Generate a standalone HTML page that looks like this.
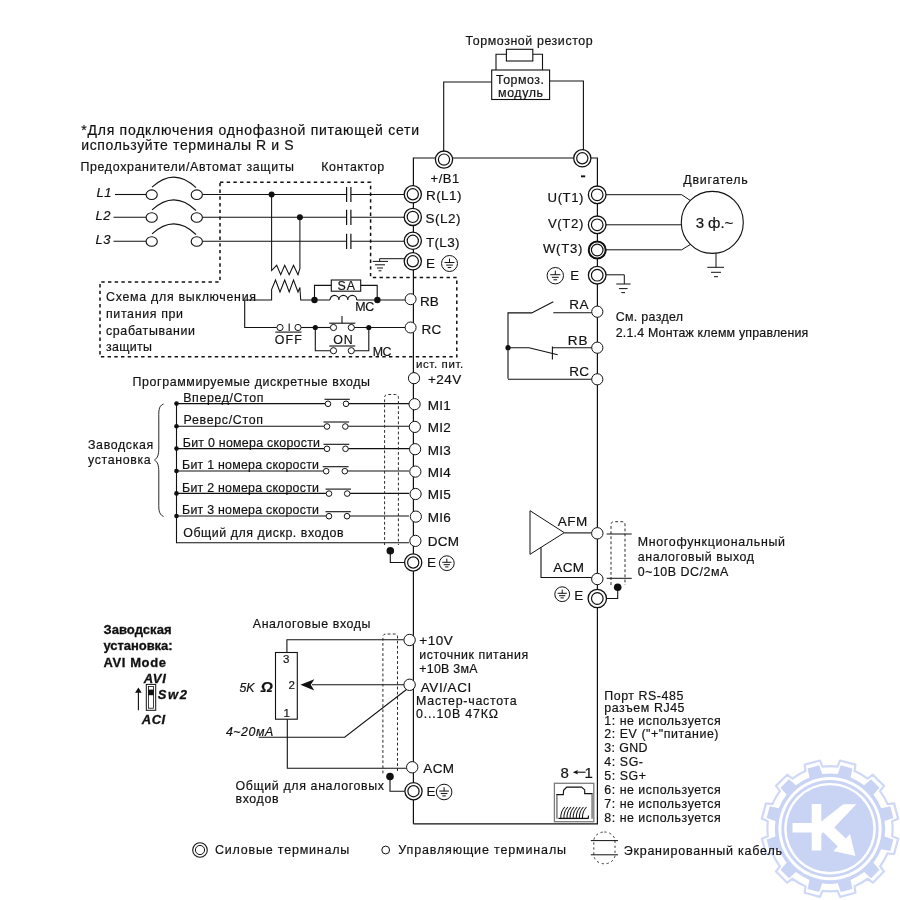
<!DOCTYPE html>
<html><head><meta charset="utf-8"><title>Wiring diagram</title>
<style>
html,body{margin:0;padding:0;background:#fff;}
body{width:900px;height:900px;overflow:hidden;}
svg{display:block;will-change:transform;font-family:"Liberation Sans",sans-serif;}
text{white-space:pre;}
</style></head><body>
<svg width="900" height="900" viewBox="0 0 900 900">
<rect width="900" height="900" fill="#fff"/>
<path d="M892.14,836.24 L898.16,838.78 L894.07,854.05 L887.59,853.24 A62.6,62.6 0 0 1 880.05,866.30 L883.98,871.51 L872.81,882.68 L867.60,878.75 A62.6,62.6 0 0 1 854.54,886.29 L855.35,892.77 L840.08,896.86 L837.54,890.84 A62.6,62.6 0 0 1 822.46,890.84 L819.92,896.86 L804.65,892.77 L805.46,886.29 A62.6,62.6 0 0 1 792.40,878.75 L787.19,882.68 L776.02,871.51 L779.95,866.30 A62.6,62.6 0 0 1 772.41,853.24 L765.93,854.05 L761.84,838.78 L767.86,836.24 A62.6,62.6 0 0 1 767.86,821.16 L761.84,818.62 L765.93,803.35 L772.41,804.16 A62.6,62.6 0 0 1 779.95,791.10 L776.02,785.89 L787.19,774.72 L792.40,778.65 A62.6,62.6 0 0 1 805.46,771.11 L804.65,764.63 L819.92,760.54 L822.46,766.56 A62.6,62.6 0 0 1 837.54,766.56 L840.08,760.54 L855.35,764.63 L854.54,771.11 A62.6,62.6 0 0 1 867.60,778.65 L872.81,774.72 L883.98,785.89 L880.05,791.10 A62.6,62.6 0 0 1 887.59,804.16 L894.07,803.35 L898.16,818.62 L892.14,821.16 A62.6,62.6 0 0 1 892.14,836.24 Z" fill="#fff" stroke="#d0d8f8" stroke-width="2.2" stroke-linejoin="round"/>
<path d="M884.64,836.51 L893.39,839.47 L890.29,851.07 L881.23,849.26 A55.2,55.2 0 0 1 873.42,862.79 L879.51,869.73 L871.03,878.21 L864.09,872.12 A55.2,55.2 0 0 1 850.56,879.93 L852.37,888.99 L840.77,892.09 L837.81,883.34 A55.2,55.2 0 0 1 822.19,883.34 L819.23,892.09 L807.63,888.99 L809.44,879.93 A55.2,55.2 0 0 1 795.91,872.12 L788.97,878.21 L780.49,869.73 L786.58,862.79 A55.2,55.2 0 0 1 778.77,849.26 L769.71,851.07 L766.61,839.47 L775.36,836.51 A55.2,55.2 0 0 1 775.36,820.89 L766.61,817.93 L769.71,806.33 L778.77,808.14 A55.2,55.2 0 0 1 786.58,794.61 L780.49,787.67 L788.97,779.19 L795.91,785.28 A55.2,55.2 0 0 1 809.44,777.47 L807.63,768.41 L819.23,765.31 L822.19,774.06 A55.2,55.2 0 0 1 837.81,774.06 L840.77,765.31 L852.37,768.41 L850.56,777.47 A55.2,55.2 0 0 1 864.09,785.28 L871.03,779.19 L879.51,787.67 L873.42,794.61 A55.2,55.2 0 0 1 881.23,808.14 L890.29,806.33 L893.39,817.93 L884.64,820.89 A55.2,55.2 0 0 1 884.64,836.51 Z" fill="#c9d4f4"/>
<circle cx="830" cy="828.7" r="51.6" fill="#fff"/>
<circle cx="830" cy="828.7" r="48.6" fill="#c9d4f4"/>
<circle cx="830" cy="828.7" r="45.8" fill="#fff"/>
<circle cx="830" cy="828.7" r="43.4" fill="#c9d4f4"/>
<path d="M811.7,803.9 L821.3,803.9 L821.3,821.4 L843.3,804.3 L856.3,804.3 L834.2,827.6 L845.8,838.6 L850.0,833.9 L855.3,855.9 L833.3,851.1 L837.8,846.4 L823.3,832.3 L821.3,833.9 L821.3,850.6 L811.7,850.6 L811.7,832.6 L792.5,832.6 L792.5,823.1 L811.7,823.1 Z" fill="#fff"/>
<g style="filter:grayscale(1)">
<polyline points="413.4,823.8 413.4,158 597.4,158 597.4,823.8 413.4,823.8" fill="none" stroke="#111" stroke-width="1.2" />
<polyline points="443.7,152 443.7,82 491.7,82" fill="none" stroke="#111" stroke-width="1.1" />
<polyline points="549.6,81 583.4,81 583.4,150" fill="none" stroke="#111" stroke-width="1.1" />
<rect x="491.7" y="70" width="57.9" height="29.5" fill="#fff" stroke="#111" stroke-width="1.1"/>
<polyline points="496,70 496,54.3 506.4,54.3" fill="none" stroke="#111" stroke-width="1.1" />
<polyline points="532.8,54.3 542.5,54.3 542.5,70" fill="none" stroke="#111" stroke-width="1.1" />
<rect x="506.4" y="49.3" width="26.4" height="11.7" fill="#fff" stroke="#111" stroke-width="1.1"/>
<text x="465.5" y="44.6" font-size="12.4" textLength="127.2" lengthAdjust="spacing" text-anchor="start" fill="#111" stroke="#111" stroke-width="0.18" style="">Тормозной резистор</text>
<text x="496" y="84.2" font-size="12.4" textLength="48.0" lengthAdjust="spacing" text-anchor="start" fill="#111" stroke="#111" stroke-width="0.18" style="">Тормоз.</text>
<text x="498" y="97" font-size="12.4" textLength="45.0" lengthAdjust="spacing" text-anchor="start" fill="#111" stroke="#111" stroke-width="0.18" style="">модуль</text>
<circle cx="444" cy="159.6" r="8.6" fill="#fff" stroke="#111" stroke-width="1.3"/>
<circle cx="444" cy="159.6" r="5.6" fill="#fff" stroke="#111" stroke-width="1.2"/>
<circle cx="582.3" cy="158.3" r="8.6" fill="#fff" stroke="#111" stroke-width="1.3"/>
<circle cx="582.3" cy="158.3" r="5.6" fill="#fff" stroke="#111" stroke-width="1.2"/>
<text x="430.5" y="182.7" font-size="13" textLength="28.8" lengthAdjust="spacing" text-anchor="start" fill="#111" stroke="#111" stroke-width="0.18" style="">+/B1</text>
<rect x="581" y="175.4" width="4.2" height="1.9" fill="#111"/>
<text x="81.3" y="134.5" font-size="14" textLength="337.7" lengthAdjust="spacing" text-anchor="start" fill="#111" stroke="#111" stroke-width="0.18" style="">*Для подключения однофазной питающей сети</text>
<text x="81.3" y="150" font-size="14" textLength="212.3" lengthAdjust="spacing" text-anchor="start" fill="#111" stroke="#111" stroke-width="0.18" style="">используйте терминалы R и S</text>
<text x="80.5" y="171.2" font-size="12.4" textLength="213.5" lengthAdjust="spacing" text-anchor="start" fill="#111" stroke="#111" stroke-width="0.18" style="">Предохранители/Автомат защиты</text>
<text x="321.2" y="171.2" font-size="12.4" textLength="62.9" lengthAdjust="spacing" text-anchor="start" fill="#111" stroke="#111" stroke-width="0.18" style="">Контактор</text>
<text x="96.5" y="196.7" font-size="13" text-anchor="start" fill="#111" stroke="#111" stroke-width="0.18" style="font-style:italic;letter-spacing:0.6px">L1</text>
<line x1="115" y1="194.5" x2="146.3" y2="194.5" stroke="#111" stroke-width="1.1" />
<line x1="202.5" y1="194.5" x2="346.4" y2="194.5" stroke="#111" stroke-width="1.1" />
<line x1="351" y1="194.5" x2="404.5" y2="194.5" stroke="#111" stroke-width="1.1" />
<line x1="346.6" y1="186.9" x2="346.6" y2="202.1" stroke="#111" stroke-width="1.2" />
<line x1="350.9" y1="186.9" x2="350.9" y2="202.1" stroke="#111" stroke-width="1.2" />
<ellipse cx="151.7" cy="194.7" rx="5.6" ry="4.8" fill="#fff" stroke="#111" stroke-width="1.1"/>
<ellipse cx="196.8" cy="194.7" rx="5.6" ry="4.8" fill="#fff" stroke="#111" stroke-width="1.1"/>
<path d="M152,187.1 Q174.2,166.7 196,187.7" fill="none" stroke="#111" stroke-width="1.1"/>
<text x="95.5" y="219.5" font-size="13" text-anchor="start" fill="#111" stroke="#111" stroke-width="0.18" style="font-style:italic;letter-spacing:0.6px">L2</text>
<line x1="113.5" y1="217.3" x2="146.3" y2="217.3" stroke="#111" stroke-width="1.1" />
<line x1="202.5" y1="217.3" x2="346.4" y2="217.3" stroke="#111" stroke-width="1.1" />
<line x1="351" y1="217.3" x2="404.5" y2="217.3" stroke="#111" stroke-width="1.1" />
<line x1="346.6" y1="209.70000000000002" x2="346.6" y2="224.9" stroke="#111" stroke-width="1.2" />
<line x1="350.9" y1="209.70000000000002" x2="350.9" y2="224.9" stroke="#111" stroke-width="1.2" />
<ellipse cx="151.7" cy="217.5" rx="5.6" ry="4.8" fill="#fff" stroke="#111" stroke-width="1.1"/>
<ellipse cx="196.8" cy="217.5" rx="5.6" ry="4.8" fill="#fff" stroke="#111" stroke-width="1.1"/>
<path d="M152,209.9 Q174.2,189.5 196,210.5" fill="none" stroke="#111" stroke-width="1.1"/>
<text x="95.5" y="243.5" font-size="13" text-anchor="start" fill="#111" stroke="#111" stroke-width="0.18" style="font-style:italic;letter-spacing:0.6px">L3</text>
<line x1="113.5" y1="241.3" x2="146.3" y2="241.3" stroke="#111" stroke-width="1.1" />
<line x1="202.5" y1="241.3" x2="346.4" y2="241.3" stroke="#111" stroke-width="1.1" />
<line x1="351" y1="241.3" x2="404.5" y2="241.3" stroke="#111" stroke-width="1.1" />
<line x1="346.6" y1="233.70000000000002" x2="346.6" y2="248.9" stroke="#111" stroke-width="1.2" />
<line x1="350.9" y1="233.70000000000002" x2="350.9" y2="248.9" stroke="#111" stroke-width="1.2" />
<ellipse cx="151.7" cy="241.5" rx="5.6" ry="4.8" fill="#fff" stroke="#111" stroke-width="1.1"/>
<ellipse cx="196.8" cy="241.5" rx="5.6" ry="4.8" fill="#fff" stroke="#111" stroke-width="1.1"/>
<path d="M152,233.9 Q174.2,213.5 196,234.5" fill="none" stroke="#111" stroke-width="1.1"/>
<circle cx="271.6" cy="194.5" r="3" fill="#111"/>
<circle cx="299.9" cy="217.3" r="3" fill="#111"/>
<circle cx="412.8" cy="194.3" r="8.6" fill="#fff" stroke="#111" stroke-width="1.3"/>
<circle cx="412.8" cy="194.3" r="5.6" fill="#fff" stroke="#111" stroke-width="1.2"/>
<circle cx="412.8" cy="216.9" r="8.6" fill="#fff" stroke="#111" stroke-width="1.3"/>
<circle cx="412.8" cy="216.9" r="5.6" fill="#fff" stroke="#111" stroke-width="1.2"/>
<circle cx="412.8" cy="240.8" r="8.6" fill="#fff" stroke="#111" stroke-width="1.3"/>
<circle cx="412.8" cy="240.8" r="5.6" fill="#fff" stroke="#111" stroke-width="1.2"/>
<circle cx="412.8" cy="261.3" r="8.6" fill="#fff" stroke="#111" stroke-width="1.3"/>
<circle cx="412.8" cy="261.3" r="5.6" fill="#fff" stroke="#111" stroke-width="1.2"/>
<text x="426" y="200" font-size="13.5" textLength="35.5" lengthAdjust="spacing" text-anchor="start" fill="#111" stroke="#111" stroke-width="0.18" style="">R(L1)</text>
<text x="425.5" y="223" font-size="13.5" textLength="35.0" lengthAdjust="spacing" text-anchor="start" fill="#111" stroke="#111" stroke-width="0.18" style="">S(L2)</text>
<text x="426" y="246.6" font-size="13.5" textLength="33.5" lengthAdjust="spacing" text-anchor="start" fill="#111" stroke="#111" stroke-width="0.18" style="">T(L3)</text>
<text x="426" y="268" font-size="13.5" text-anchor="start" fill="#111" stroke="#111" stroke-width="0.18" style="">E</text>
<circle cx="449.5" cy="263.5" r="8" fill="#fff" stroke="#111" stroke-width="1.0"/>
<line x1="449.5" y1="258.54" x2="449.5" y2="262.54" stroke="#111" stroke-width="1" />
<line x1="444.54" y1="262.54" x2="454.46" y2="262.54" stroke="#111" stroke-width="1" />
<line x1="446.14" y1="265.1" x2="452.86" y2="265.1" stroke="#111" stroke-width="1" />
<line x1="447.74" y1="267.5" x2="451.26" y2="267.5" stroke="#111" stroke-width="1" />
<polyline points="404.3,258.7 379.6,258.7 379.6,261.4" fill="none" stroke="#111" stroke-width="1" />
<line x1="372.7" y1="261.4" x2="388" y2="261.4" stroke="#111" stroke-width="1" />
<line x1="375" y1="264.8" x2="385" y2="264.8" stroke="#111" stroke-width="1" />
<line x1="377" y1="268" x2="383" y2="268" stroke="#111" stroke-width="1" />
<line x1="378.6" y1="270.8" x2="381.4" y2="270.8" stroke="#111" stroke-width="1" />
<polyline points="271.6,194.5 271.6,270.5 276.7,265.3 280.7,274.7 284.7,265.3 289.2,274.7 293.5,265.3 298,274.7 299.9,268.5 299.9,217.3" fill="none" stroke="#111" stroke-width="1.05" />
<polyline points="244.7,300 271.6,300 271.6,289.5 275.5,280 280,292 284.7,280 289.2,292 293.5,280 298,292 299.9,287.5 300.7,300 330,300" fill="none" stroke="#111" stroke-width="1.05" />
<polyline points="244.7,300 244.7,327.5 276.8,327.5" fill="none" stroke="#111" stroke-width="1.1" />
<circle cx="280" cy="327.5" r="3.1" fill="#fff" stroke="#111" stroke-width="1"/>
<circle cx="298" cy="327.5" r="3.1" fill="#fff" stroke="#111" stroke-width="1"/>
<line x1="289.2" y1="323.6" x2="289.2" y2="331" stroke="#111" stroke-width="1.1" />
<line x1="275.3" y1="332.1" x2="301.5" y2="332.1" stroke="#111" stroke-width="1.1" />
<line x1="301.1" y1="327.5" x2="330.4" y2="327.5" stroke="#111" stroke-width="1.1" />
<text x="274.8" y="343.6" font-size="12.4" textLength="27.0" lengthAdjust="spacing" text-anchor="start" fill="#111" stroke="#111" stroke-width="0.18" style="">OFF</text>
<circle cx="315.3" cy="327.5" r="2.6" fill="#111"/>
<circle cx="368.8" cy="327.5" r="2.6" fill="#111"/>
<circle cx="333.5" cy="327.5" r="3.1" fill="#fff" stroke="#111" stroke-width="1"/>
<circle cx="351.3" cy="327.5" r="3.1" fill="#fff" stroke="#111" stroke-width="1"/>
<line x1="329.2" y1="323.2" x2="355.3" y2="323.2" stroke="#111" stroke-width="1.1" />
<line x1="342" y1="316" x2="342" y2="323.2" stroke="#111" stroke-width="1.1" />
<line x1="354.4" y1="327.5" x2="405" y2="327.5" stroke="#111" stroke-width="1.1" />
<text x="333.3" y="343.6" font-size="12.4" textLength="19.5" lengthAdjust="spacing" text-anchor="start" fill="#111" stroke="#111" stroke-width="0.18" style="">ON</text>
<line x1="329.2" y1="346" x2="355.3" y2="346" stroke="#111" stroke-width="1.1" />
<circle cx="333.5" cy="350.7" r="3.1" fill="#fff" stroke="#111" stroke-width="1"/>
<circle cx="351.3" cy="350.7" r="3.1" fill="#fff" stroke="#111" stroke-width="1"/>
<polyline points="315.3,327.5 315.3,350.7 330.4,350.7" fill="none" stroke="#111" stroke-width="1.1" />
<polyline points="354.4,350.7 368.8,350.7 368.8,327.5" fill="none" stroke="#111" stroke-width="1.1" />
<text x="372.7" y="355.6" font-size="12.4" textLength="18.8" lengthAdjust="spacing" text-anchor="start" fill="#111" stroke="#111" stroke-width="0.18" style="">MC</text>
<rect x="331.3" y="280" width="29.4" height="11.2" fill="#fff" stroke="#111" stroke-width="1.1"/>
<text x="337.5" y="290" font-size="12.4" textLength="17.5" lengthAdjust="spacing" text-anchor="start" fill="#111" stroke="#111" stroke-width="0.18" style="">SA</text>
<polyline points="314.5,300 314.5,285.4 331.3,285.4" fill="none" stroke="#111" stroke-width="1.1" />
<polyline points="360.7,285.4 377.2,285.4 377.2,300" fill="none" stroke="#111" stroke-width="1.1" />
<circle cx="314.5" cy="300" r="3.2" fill="#111"/>
<circle cx="377.4" cy="300" r="3.2" fill="#111"/>
<path d="M330,300 a4.45,4.6 0 0 1 8.9,0 a4.45,4.6 0 0 1 8.9,0 a4.45,4.6 0 0 1 8.9,0" fill="none" stroke="#111" stroke-width="1.1"/>
<line x1="356.7" y1="300" x2="405" y2="300" stroke="#111" stroke-width="1.1" />
<text x="355.3" y="310.8" font-size="12.4" textLength="19.0" lengthAdjust="spacing" text-anchor="start" fill="#111" stroke="#111" stroke-width="0.18" style="">MC</text>
<circle cx="410.6" cy="299.2" r="5.5" fill="#fff" stroke="#111" stroke-width="1.0"/>
<circle cx="410.6" cy="327.5" r="5.5" fill="#fff" stroke="#111" stroke-width="1.0"/>
<text x="419.9" y="306" font-size="13.5" textLength="18.9" lengthAdjust="spacing" text-anchor="start" fill="#111" stroke="#111" stroke-width="0.18" style="">RB</text>
<text x="421.5" y="334" font-size="13.5" textLength="19.8" lengthAdjust="spacing" text-anchor="start" fill="#111" stroke="#111" stroke-width="0.18" style="">RC</text>
<text x="415.9" y="367.6" font-size="11.5" textLength="47.4" lengthAdjust="spacing" text-anchor="start" fill="#111" stroke="#111" stroke-width="0.18" style="">ист. пит.</text>
<circle cx="414" cy="378.2" r="5.6" fill="#fff" stroke="#111" stroke-width="1.0"/>
<text x="428" y="383.5" font-size="13.5" textLength="33.3" lengthAdjust="spacing" text-anchor="start" fill="#111" stroke="#111" stroke-width="0.18" style="">+24V</text>
<polyline points="220,182.3 370.6,182.3 370.6,277.4 456.8,277.4 456.8,356.8 100,356.8 100,282 220,282 220,182.3" fill="none" stroke="#111" stroke-width="1.5" stroke-dasharray="3.4 3.3"/>
<text x="106" y="300.6" font-size="12.4" textLength="150.0" lengthAdjust="spacing" text-anchor="start" fill="#111" stroke="#111" stroke-width="0.18" style="">Схема для выключения</text>
<text x="106" y="317.5" font-size="12.4" textLength="77.0" lengthAdjust="spacing" text-anchor="start" fill="#111" stroke="#111" stroke-width="0.18" style="">питания при</text>
<text x="106" y="334.6" font-size="12.4" textLength="89.0" lengthAdjust="spacing" text-anchor="start" fill="#111" stroke="#111" stroke-width="0.18" style="">срабатывании</text>
<text x="106" y="351.2" font-size="12.4" textLength="46.0" lengthAdjust="spacing" text-anchor="start" fill="#111" stroke="#111" stroke-width="0.18" style="">защиты</text>
<text x="132.5" y="386.2" font-size="12.4" textLength="237.5" lengthAdjust="spacing" text-anchor="start" fill="#111" stroke="#111" stroke-width="0.18" style="">Программируемые дискретные входы</text>
<line x1="176.5" y1="403.6" x2="325.2" y2="403.6" stroke="#111" stroke-width="1.1" />
<line x1="348.8" y1="403.6" x2="409" y2="403.6" stroke="#111" stroke-width="1.1" />
<circle cx="328" cy="403.8" r="2.8" fill="#fff" stroke="#111" stroke-width="1"/>
<circle cx="346" cy="403.8" r="2.8" fill="#fff" stroke="#111" stroke-width="1"/>
<line x1="324.5" y1="399.3" x2="349.8" y2="399.3" stroke="#111" stroke-width="1.1" />
<circle cx="176.5" cy="403.6" r="2.3" fill="#111"/>
<circle cx="414.6" cy="404.20000000000005" r="5.6" fill="#fff" stroke="#111" stroke-width="1.0"/>
<text x="427.7" y="409.6" font-size="13.5" textLength="23.0" lengthAdjust="spacing" text-anchor="start" fill="#111" stroke="#111" stroke-width="0.18" style="">MI1</text>
<text x="183.2" y="401.70000000000005" font-size="12.4" textLength="80.3" lengthAdjust="spacing" text-anchor="start" fill="#111" stroke="#111" stroke-width="0.18" style="">Вперед/Стоп</text>
<line x1="176.5" y1="426.3" x2="324.2" y2="426.3" stroke="#111" stroke-width="1.1" />
<line x1="348.1" y1="426.3" x2="409" y2="426.3" stroke="#111" stroke-width="1.1" />
<circle cx="327" cy="426.5" r="2.8" fill="#fff" stroke="#111" stroke-width="1"/>
<circle cx="345.3" cy="426.5" r="2.8" fill="#fff" stroke="#111" stroke-width="1"/>
<line x1="323.5" y1="422.0" x2="349.1" y2="422.0" stroke="#111" stroke-width="1.1" />
<circle cx="176.5" cy="426.3" r="2.3" fill="#111"/>
<circle cx="414.85" cy="426.90000000000003" r="5.6" fill="#fff" stroke="#111" stroke-width="1.0"/>
<text x="427.7" y="432.3" font-size="13.5" textLength="23.0" lengthAdjust="spacing" text-anchor="start" fill="#111" stroke="#111" stroke-width="0.18" style="">MI2</text>
<text x="183.5" y="424.40000000000003" font-size="12.4" textLength="79.5" lengthAdjust="spacing" text-anchor="start" fill="#111" stroke="#111" stroke-width="0.18" style="">Реверс/Стоп</text>
<line x1="176.5" y1="448.6" x2="324.2" y2="448.6" stroke="#111" stroke-width="1.1" />
<line x1="348.3" y1="448.6" x2="409" y2="448.6" stroke="#111" stroke-width="1.1" />
<circle cx="327" cy="448.8" r="2.8" fill="#fff" stroke="#111" stroke-width="1"/>
<circle cx="345.5" cy="448.8" r="2.8" fill="#fff" stroke="#111" stroke-width="1"/>
<line x1="323.5" y1="444.3" x2="349.3" y2="444.3" stroke="#111" stroke-width="1.1" />
<circle cx="176.5" cy="448.6" r="2.3" fill="#111"/>
<circle cx="415.1" cy="449.20000000000005" r="5.6" fill="#fff" stroke="#111" stroke-width="1.0"/>
<text x="427.7" y="454.6" font-size="13.5" textLength="23.0" lengthAdjust="spacing" text-anchor="start" fill="#111" stroke="#111" stroke-width="0.18" style="">MI3</text>
<text x="182.8" y="446.70000000000005" font-size="12.4" textLength="137.2" lengthAdjust="spacing" text-anchor="start" fill="#111" stroke="#111" stroke-width="0.18" style="">Бит 0 номера скорости</text>
<line x1="176.5" y1="471" x2="323.4" y2="471" stroke="#111" stroke-width="1.1" />
<line x1="347.6" y1="471" x2="409" y2="471" stroke="#111" stroke-width="1.1" />
<circle cx="326.2" cy="471.2" r="2.8" fill="#fff" stroke="#111" stroke-width="1"/>
<circle cx="344.8" cy="471.2" r="2.8" fill="#fff" stroke="#111" stroke-width="1"/>
<line x1="322.7" y1="466.7" x2="348.6" y2="466.7" stroke="#111" stroke-width="1.1" />
<circle cx="176.5" cy="471" r="2.3" fill="#111"/>
<circle cx="415.35" cy="471.6" r="5.6" fill="#fff" stroke="#111" stroke-width="1.0"/>
<text x="427.7" y="477.0" font-size="13.5" textLength="23.0" lengthAdjust="spacing" text-anchor="start" fill="#111" stroke="#111" stroke-width="0.18" style="">MI4</text>
<text x="182" y="469.1" font-size="12.4" textLength="137.0" lengthAdjust="spacing" text-anchor="start" fill="#111" stroke="#111" stroke-width="0.18" style="">Бит 1 номера скорости</text>
<line x1="176.5" y1="493.4" x2="326.2" y2="493.4" stroke="#111" stroke-width="1.1" />
<line x1="350.0" y1="493.4" x2="409" y2="493.4" stroke="#111" stroke-width="1.1" />
<circle cx="329" cy="493.59999999999997" r="2.8" fill="#fff" stroke="#111" stroke-width="1"/>
<circle cx="347.2" cy="493.59999999999997" r="2.8" fill="#fff" stroke="#111" stroke-width="1"/>
<line x1="325.5" y1="489.09999999999997" x2="351.0" y2="489.09999999999997" stroke="#111" stroke-width="1.1" />
<circle cx="176.5" cy="493.4" r="2.3" fill="#111"/>
<circle cx="415.6" cy="494.0" r="5.6" fill="#fff" stroke="#111" stroke-width="1.0"/>
<text x="427.7" y="499.4" font-size="13.5" textLength="23.0" lengthAdjust="spacing" text-anchor="start" fill="#111" stroke="#111" stroke-width="0.18" style="">MI5</text>
<text x="182" y="491.5" font-size="12.4" textLength="137.0" lengthAdjust="spacing" text-anchor="start" fill="#111" stroke="#111" stroke-width="0.18" style="">Бит 2 номера скорости</text>
<line x1="176.5" y1="516" x2="326.2" y2="516" stroke="#111" stroke-width="1.1" />
<line x1="349.8" y1="516" x2="409" y2="516" stroke="#111" stroke-width="1.1" />
<circle cx="329" cy="516.2" r="2.8" fill="#fff" stroke="#111" stroke-width="1"/>
<circle cx="347" cy="516.2" r="2.8" fill="#fff" stroke="#111" stroke-width="1"/>
<line x1="325.5" y1="511.7" x2="350.8" y2="511.7" stroke="#111" stroke-width="1.1" />
<circle cx="176.5" cy="516" r="2.3" fill="#111"/>
<circle cx="415.85" cy="516.6" r="5.6" fill="#fff" stroke="#111" stroke-width="1.0"/>
<text x="427.7" y="522.0" font-size="13.5" textLength="23.0" lengthAdjust="spacing" text-anchor="start" fill="#111" stroke="#111" stroke-width="0.18" style="">MI6</text>
<text x="182" y="514.1" font-size="12.4" textLength="137.0" lengthAdjust="spacing" text-anchor="start" fill="#111" stroke="#111" stroke-width="0.18" style="">Бит 3 номера скорости</text>
<polyline points="176.5,403.6 176.5,542.7 409,542.7" fill="none" stroke="#111" stroke-width="1.1" />
<text x="183.2" y="536.6" font-size="12.4" textLength="160.3" lengthAdjust="spacing" text-anchor="start" fill="#111" stroke="#111" stroke-width="0.18" style="">Общий для дискр. входов</text>
<circle cx="415.4" cy="540.9" r="5.6" fill="#fff" stroke="#111" stroke-width="1.0"/>
<text x="427.8" y="545.7" font-size="13.5" textLength="31.1" lengthAdjust="spacing" text-anchor="start" fill="#111" stroke="#111" stroke-width="0.18" style="">DCM</text>
<circle cx="413.2" cy="562.5" r="8.6" fill="#fff" stroke="#111" stroke-width="1.3"/>
<circle cx="413.2" cy="562.5" r="5.6" fill="#fff" stroke="#111" stroke-width="1.2"/>
<text x="427" y="566.5" font-size="13.5" text-anchor="start" fill="#111" stroke="#111" stroke-width="0.18" style="">E</text>
<circle cx="446.8" cy="563.2" r="7.4" fill="#fff" stroke="#111" stroke-width="1.0"/>
<line x1="446.8" y1="558.6120000000001" x2="446.8" y2="562.312" stroke="#111" stroke-width="1" />
<line x1="442.212" y1="562.312" x2="451.38800000000003" y2="562.312" stroke="#111" stroke-width="1" />
<line x1="443.692" y1="564.6800000000001" x2="449.908" y2="564.6800000000001" stroke="#111" stroke-width="1" />
<line x1="445.172" y1="566.9000000000001" x2="448.428" y2="566.9000000000001" stroke="#111" stroke-width="1" />
<text x="88" y="449.4" font-size="12.4" textLength="65.3" lengthAdjust="spacing" text-anchor="start" fill="#111" stroke="#111" stroke-width="0.18" style="">Заводская</text>
<text x="88" y="463.6" font-size="12.4" textLength="62.7" lengthAdjust="spacing" text-anchor="start" fill="#111" stroke="#111" stroke-width="0.18" style="">установка</text>
<path d="M163.5,404 C158,406 158.8,412 158.8,420 L158.8,448 C158.8,455 157.5,458 154.5,460 C157.5,462 158.8,465 158.8,472 L158.8,500 C158.8,508 158,514 163.5,516.5" fill="none" stroke="#111" stroke-width="0.9"/>
<path d="M384.6,545 L384.6,397.5 Q384.6,394.5 387.6,394.5 L395.4,394.5 Q398.4,394.5 398.4,397.5 L398.4,545" fill="none" stroke="#2a2a2a" stroke-width="1" stroke-dasharray="2.8 2.3"/>
<circle cx="390.3" cy="550.8" r="3.8" fill="#111"/>
<polyline points="390.3,550.8 390.3,562.5 404.5,562.5" fill="none" stroke="#111" stroke-width="1.1" />
<text x="252.8" y="628.1" font-size="12.4" textLength="117.7" lengthAdjust="spacing" text-anchor="start" fill="#111" stroke="#111" stroke-width="0.18" style="">Аналоговые входы</text>
<polyline points="286.9,652.5 286.9,639.8 403.5,639.8" fill="none" stroke="#111" stroke-width="1.1" />
<rect x="275.5" y="652.5" width="21.8" height="66.7" fill="#fff" stroke="#111" stroke-width="1.1"/>
<text x="283" y="662.6" font-size="11.5" text-anchor="start" fill="#111" stroke="#111" stroke-width="0.18" style="">3</text>
<text x="288.6" y="688.9" font-size="11.5" text-anchor="start" fill="#111" stroke="#111" stroke-width="0.18" style="">2</text>
<text x="283.4" y="716.7" font-size="11.5" text-anchor="start" fill="#111" stroke="#111" stroke-width="0.18" style="">1</text>
<polyline points="287.3,719.2 287.3,768.3 406.5,768.3" fill="none" stroke="#111" stroke-width="1.1" />
<line x1="312" y1="684.8" x2="404" y2="684.8" stroke="#111" stroke-width="1.1" />
<path d="M300.4,684.8 L314.3,679.2 L310.8,684.8 L314.3,690.6 Z" fill="#111"/>
<polyline points="258.7,737.3 344.7,737.3 406.2,689.8" fill="none" stroke="#111" stroke-width="1.1" />
<text x="239.5" y="691.6" font-size="12.4" textLength="15.0" lengthAdjust="spacing" text-anchor="start" fill="#111" stroke="#111" stroke-width="0.18" style="font-style:italic">5K</text>
<text x="260.8" y="691.8" font-size="15.5" textLength="12.8" lengthAdjust="spacing" text-anchor="start" fill="#111" stroke="#111" stroke-width="0.18" style="font-style:italic;font-weight:bold">Ω</text>
<text x="225.9" y="735.9" font-size="12.4" textLength="47.4" lengthAdjust="spacing" text-anchor="start" fill="#111" stroke="#111" stroke-width="0.18" style="font-style:italic">4~20мА</text>
<circle cx="409.6" cy="640" r="5.7" fill="#fff" stroke="#111" stroke-width="1.0"/>
<circle cx="409.6" cy="684.8" r="5.7" fill="#fff" stroke="#111" stroke-width="1.0"/>
<circle cx="412.2" cy="767.3" r="5.7" fill="#fff" stroke="#111" stroke-width="1.0"/>
<circle cx="413.5" cy="791.2" r="8.6" fill="#fff" stroke="#111" stroke-width="1.3"/>
<circle cx="413.5" cy="791.2" r="5.6" fill="#fff" stroke="#111" stroke-width="1.2"/>
<text x="419.3" y="644.9" font-size="13.5" textLength="33.4" lengthAdjust="spacing" text-anchor="start" fill="#111" stroke="#111" stroke-width="0.18" style="">+10V</text>
<text x="419.3" y="658.8" font-size="12.4" textLength="108.8" lengthAdjust="spacing" text-anchor="start" fill="#111" stroke="#111" stroke-width="0.18" style="">источник питания</text>
<text x="419.3" y="672.6" font-size="12.4" textLength="58.2" lengthAdjust="spacing" text-anchor="start" fill="#111" stroke="#111" stroke-width="0.18" style="">+10В 3мА</text>
<text x="420.7" y="691.6" font-size="13.5" textLength="50.6" lengthAdjust="spacing" text-anchor="start" fill="#111" stroke="#111" stroke-width="0.18" style="">AVI/ACI</text>
<text x="416.1" y="704.9" font-size="12.4" textLength="100.6" lengthAdjust="spacing" text-anchor="start" fill="#111" stroke="#111" stroke-width="0.18" style="">Мастер-частота</text>
<text x="416.1" y="718.2" font-size="12.4" textLength="81.9" lengthAdjust="spacing" text-anchor="start" fill="#111" stroke="#111" stroke-width="0.18" style="">0...10В 47КΩ</text>
<text x="423.3" y="772.9" font-size="13.5" textLength="30.7" lengthAdjust="spacing" text-anchor="start" fill="#111" stroke="#111" stroke-width="0.18" style="">ACM</text>
<text x="426.5" y="796.2" font-size="13.5" text-anchor="start" fill="#111" stroke="#111" stroke-width="0.18" style="">E</text>
<circle cx="444.1" cy="792" r="7.8" fill="#fff" stroke="#111" stroke-width="1.0"/>
<line x1="444.1" y1="787.164" x2="444.1" y2="791.064" stroke="#111" stroke-width="1" />
<line x1="439.264" y1="791.064" x2="448.93600000000004" y2="791.064" stroke="#111" stroke-width="1" />
<line x1="440.824" y1="793.56" x2="447.37600000000003" y2="793.56" stroke="#111" stroke-width="1" />
<line x1="442.384" y1="795.9" x2="445.81600000000003" y2="795.9" stroke="#111" stroke-width="1" />
<path d="M382.9,773.3 L382.9,637 Q382.9,634 385.9,634 L394.5,634 Q397.5,634 397.5,637 L397.5,773.3" fill="none" stroke="#2a2a2a" stroke-width="1" stroke-dasharray="2.8 2.3"/>
<circle cx="390" cy="776.5" r="3.8" fill="#111"/>
<polyline points="390,776.5 390,791.2 404.7,791.2" fill="none" stroke="#111" stroke-width="1.1" />
<text x="235.5" y="790" font-size="12.4" textLength="148.5" lengthAdjust="spacing" text-anchor="start" fill="#111" stroke="#111" stroke-width="0.18" style="">Общий для аналоговых</text>
<text x="235.5" y="803.3" font-size="12.4" textLength="43.0" lengthAdjust="spacing" text-anchor="start" fill="#111" stroke="#111" stroke-width="0.18" style="">входов</text>
<text x="103.5" y="634.2" font-size="13" textLength="68.0" lengthAdjust="spacing" text-anchor="start" fill="#111" stroke="#111" stroke-width="0.18" style="font-weight:bold;stroke-width:0.3">Заводская</text>
<text x="103.5" y="650.2" font-size="13" textLength="69.0" lengthAdjust="spacing" text-anchor="start" fill="#111" stroke="#111" stroke-width="0.18" style="font-weight:bold;stroke-width:0.3">установка:</text>
<text x="103.5" y="666.8" font-size="13" textLength="62.4" lengthAdjust="spacing" text-anchor="start" fill="#111" stroke="#111" stroke-width="0.18" style="font-weight:bold;stroke-width:0.3">AVI Mode</text>
<text x="143.7" y="682.5" font-size="13" textLength="22.1" lengthAdjust="spacing" text-anchor="start" fill="#111" stroke="#111" stroke-width="0.18" style="font-weight:bold;font-style:italic;stroke-width:0.3">AVI</text>
<text x="141.7" y="723.9" font-size="13" textLength="23.5" lengthAdjust="spacing" text-anchor="start" fill="#111" stroke="#111" stroke-width="0.18" style="font-weight:bold;font-style:italic;stroke-width:0.3">ACI</text>
<text x="157.7" y="698.5" font-size="13" textLength="29.3" lengthAdjust="spacing" text-anchor="start" fill="#111" stroke="#111" stroke-width="0.18" style="font-weight:bold;font-style:italic;stroke-width:0.3">Sw2</text>
<rect x="146.3" y="684.4" width="9.4" height="25.9" fill="#fff" stroke="#111" stroke-width="1"/>
<rect x="148.4" y="686.6" width="5.2" height="21.6" fill="#fff" stroke="#111" stroke-width="0.8"/>
<rect x="148.2" y="689.6" width="5.6" height="5.6" fill="#111"/>
<line x1="138.4" y1="710.3" x2="138.4" y2="691" stroke="#111" stroke-width="1.1" />
<path d="M138.4,687.4 L135.1,692.8 L141.7,692.8 Z" fill="#111"/>
<circle cx="597.2" cy="194.8" r="8.8" fill="#fff" stroke="#111" stroke-width="1.3"/>
<circle cx="597.2" cy="194.8" r="5.8" fill="#fff" stroke="#111" stroke-width="1.2"/>
<circle cx="597.2" cy="224.8" r="8.8" fill="#fff" stroke="#111" stroke-width="1.3"/>
<circle cx="597.2" cy="224.8" r="5.8" fill="#fff" stroke="#111" stroke-width="1.2"/>
<circle cx="597.2" cy="250" r="8.8" fill="#fff" stroke="#111" stroke-width="1.3"/>
<circle cx="597.2" cy="250" r="5.8" fill="#fff" stroke="#111" stroke-width="1.2"/>
<circle cx="597.2" cy="275.2" r="8.8" fill="#fff" stroke="#111" stroke-width="1.3"/>
<circle cx="597.2" cy="275.2" r="5.8" fill="#fff" stroke="#111" stroke-width="1.2"/>
<circle cx="597.2" cy="250" r="8.3" fill="none" stroke="#111" stroke-width="1.6"/>
<text x="547.6" y="202.3" font-size="13.2" textLength="35.9" lengthAdjust="spacing" text-anchor="start" fill="#111" stroke="#111" stroke-width="0.18" style="">U(T1)</text>
<text x="548" y="228.2" font-size="13.2" textLength="35.3" lengthAdjust="spacing" text-anchor="start" fill="#111" stroke="#111" stroke-width="0.18" style="">V(T2)</text>
<text x="542.9" y="253" font-size="13.2" textLength="39.6" lengthAdjust="spacing" text-anchor="start" fill="#111" stroke="#111" stroke-width="0.18" style="">W(T3)</text>
<circle cx="555.3" cy="275.7" r="8.2" fill="#fff" stroke="#111" stroke-width="1.0"/>
<line x1="555.3" y1="270.616" x2="555.3" y2="274.716" stroke="#111" stroke-width="1" />
<line x1="550.216" y1="274.716" x2="560.3839999999999" y2="274.716" stroke="#111" stroke-width="1" />
<line x1="551.856" y1="277.34" x2="558.7439999999999" y2="277.34" stroke="#111" stroke-width="1" />
<line x1="553.496" y1="279.8" x2="557.1039999999999" y2="279.8" stroke="#111" stroke-width="1" />
<text x="570.3" y="279.8" font-size="13.2" text-anchor="start" fill="#111" stroke="#111" stroke-width="0.18" style="">E</text>
<polyline points="606,194.7 681.7,194.7 690.3,200.5" fill="none" stroke="#111" stroke-width="1" />
<line x1="606" y1="224.8" x2="681.5" y2="224.8" stroke="#111" stroke-width="1" />
<polyline points="606,249.8 681.7,249.8 690.3,244.5" fill="none" stroke="#111" stroke-width="1" />
<circle cx="712.3" cy="222.4" r="31" fill="#fff" stroke="#111" stroke-width="1.1"/>
<text x="695.7" y="227.5" font-size="15" textLength="37.6" lengthAdjust="spacing" text-anchor="start" fill="#111" stroke="#111" stroke-width="0.18" style="">3 ф.~</text>
<text x="683.3" y="183.9" font-size="12.4" textLength="64.4" lengthAdjust="spacing" text-anchor="start" fill="#111" stroke="#111" stroke-width="0.18" style="">Двигатель</text>
<line x1="716" y1="253.2" x2="716" y2="267.3" stroke="#111" stroke-width="1" />
<line x1="707.3" y1="267.3" x2="724" y2="267.3" stroke="#111" stroke-width="1" />
<line x1="711" y1="272.3" x2="721" y2="272.3" stroke="#111" stroke-width="1" />
<line x1="714" y1="276.7" x2="718" y2="276.7" stroke="#111" stroke-width="1" />
<polyline points="606,274.8 624.3,274.8 624.3,284" fill="none" stroke="#111" stroke-width="1" />
<line x1="616.3" y1="284" x2="630.6" y2="284" stroke="#111" stroke-width="1" />
<line x1="619" y1="288.6" x2="627.6" y2="288.6" stroke="#111" stroke-width="1" />
<line x1="621.3" y1="292.6" x2="625" y2="292.6" stroke="#111" stroke-width="1" />
<circle cx="597.3" cy="311.7" r="5.6" fill="#fff" stroke="#111" stroke-width="1.0"/>
<circle cx="597.3" cy="347.7" r="5.6" fill="#fff" stroke="#111" stroke-width="1.0"/>
<circle cx="597.3" cy="379.3" r="5.6" fill="#fff" stroke="#111" stroke-width="1.0"/>
<text x="569.3" y="309.4" font-size="13.5" textLength="19.2" lengthAdjust="spacing" text-anchor="start" fill="#111" stroke="#111" stroke-width="0.18" style="">RA</text>
<text x="567.7" y="345.1" font-size="13.5" textLength="19.8" lengthAdjust="spacing" text-anchor="start" fill="#111" stroke="#111" stroke-width="0.18" style="">RB</text>
<text x="569.3" y="376.1" font-size="13.5" textLength="19.7" lengthAdjust="spacing" text-anchor="start" fill="#111" stroke="#111" stroke-width="0.18" style="">RC</text>
<line x1="553.3" y1="312.7" x2="591.7" y2="312.7" stroke="#111" stroke-width="1.1" />
<polyline points="508,378.8 508,312.9 531.7,312.9 553.3,301.7" fill="none" stroke="#111" stroke-width="1.1" />
<polyline points="508,347.7 529,347.7 557.7,354.8" fill="none" stroke="#111" stroke-width="1.1" />
<line x1="552.4" y1="347.7" x2="591.7" y2="347.7" stroke="#111" stroke-width="1.1" />
<line x1="552.4" y1="346.6" x2="552.4" y2="359.4" stroke="#111" stroke-width="1.1" />
<line x1="508" y1="379.3" x2="591.7" y2="379.3" stroke="#111" stroke-width="1.1" />
<circle cx="508" cy="347.7" r="2.6" fill="#111"/>
<text x="615.7" y="321.1" font-size="12.4" textLength="67.3" lengthAdjust="spacing" text-anchor="start" fill="#111" stroke="#111" stroke-width="0.18" style="">См. раздел</text>
<text x="615.7" y="336.8" font-size="12.4" textLength="192.6" lengthAdjust="spacing" text-anchor="start" fill="#111" stroke="#111" stroke-width="0.18" style="">2.1.4 Монтаж клемм управления</text>
<path d="M530,510.7 L530,554.3 L564.3,532.7 Z" fill="#fff" stroke="#111" stroke-width="1"/>
<line x1="564.3" y1="532.9" x2="591.6" y2="532.9" stroke="#111" stroke-width="1.1" />
<polyline points="541,547.5 541,577.5 591.6,577.5" fill="none" stroke="#111" stroke-width="1.1" />
<circle cx="597.3" cy="533.3" r="5.7" fill="#fff" stroke="#111" stroke-width="1.0"/>
<circle cx="597.3" cy="579" r="5.7" fill="#fff" stroke="#111" stroke-width="1.0"/>
<circle cx="597.3" cy="598.5" r="9.2" fill="#fff" stroke="#111" stroke-width="1.3"/>
<circle cx="597.3" cy="598.5" r="5.8" fill="#fff" stroke="#111" stroke-width="1.2"/>
<text x="557.7" y="526.1" font-size="13.5" textLength="29.6" lengthAdjust="spacing" text-anchor="start" fill="#111" stroke="#111" stroke-width="0.18" style="">AFM</text>
<text x="553.3" y="571.8" font-size="13.5" textLength="30.7" lengthAdjust="spacing" text-anchor="start" fill="#111" stroke="#111" stroke-width="0.18" style="">ACM</text>
<circle cx="562.2" cy="594.2" r="7.4" fill="#fff" stroke="#111" stroke-width="1.0"/>
<line x1="562.2" y1="589.6120000000001" x2="562.2" y2="593.312" stroke="#111" stroke-width="1" />
<line x1="557.6120000000001" y1="593.312" x2="566.788" y2="593.312" stroke="#111" stroke-width="1" />
<line x1="559.0920000000001" y1="595.6800000000001" x2="565.308" y2="595.6800000000001" stroke="#111" stroke-width="1" />
<line x1="560.572" y1="597.9000000000001" x2="563.8280000000001" y2="597.9000000000001" stroke="#111" stroke-width="1" />
<text x="574.3" y="599.5" font-size="13.5" text-anchor="start" fill="#111" stroke="#111" stroke-width="0.18" style="">E</text>
<path d="M611,585 L611,524.7 Q611,521.7 614,521.7 L622,521.7 Q625,521.7 625,524.7 L625,585" fill="none" stroke="#2a2a2a" stroke-width="1" stroke-dasharray="2.8 2.3"/>
<line x1="606.7" y1="534" x2="631.7" y2="534" stroke="#111" stroke-width="1" />
<line x1="606.7" y1="578.3" x2="631.7" y2="578.3" stroke="#111" stroke-width="1" />
<circle cx="617.7" cy="587.3" r="3.8" fill="#111"/>
<polyline points="617.7,587.3 617.7,598.5 606.5,598.5" fill="none" stroke="#111" stroke-width="1.1" />
<text x="637.7" y="545.6" font-size="12.4" textLength="147.3" lengthAdjust="spacing" text-anchor="start" fill="#111" stroke="#111" stroke-width="0.18" style="">Многофункциональный</text>
<text x="637.7" y="560.6" font-size="12.4" textLength="116.3" lengthAdjust="spacing" text-anchor="start" fill="#111" stroke="#111" stroke-width="0.18" style="">аналоговый выход</text>
<text x="637.7" y="575.6" font-size="12.4" textLength="90.6" lengthAdjust="spacing" text-anchor="start" fill="#111" stroke="#111" stroke-width="0.18" style="">0~10В DC/2мА</text>
<text x="604.3" y="699.6" font-size="12.4" textLength="79.0" lengthAdjust="spacing" text-anchor="start" fill="#111" stroke="#111" stroke-width="0.18" style="">Порт RS-485</text>
<text x="604.3" y="712" font-size="12.4" textLength="80.2" lengthAdjust="spacing" text-anchor="start" fill="#111" stroke="#111" stroke-width="0.18" style="">разъем RJ45</text>
<text x="604.3" y="724.8" font-size="12.4" textLength="116.4" lengthAdjust="spacing" text-anchor="start" fill="#111" stroke="#111" stroke-width="0.18" style="">1: не используется</text>
<text x="604.3" y="738.4" font-size="12.4" textLength="114.2" lengthAdjust="spacing" text-anchor="start" fill="#111" stroke="#111" stroke-width="0.18" style="">2: EV ("+"питание)</text>
<text x="604.3" y="752" font-size="12.4" textLength="43.2" lengthAdjust="spacing" text-anchor="start" fill="#111" stroke="#111" stroke-width="0.18" style="">3: GND</text>
<text x="604.3" y="766" font-size="12.4" textLength="38.7" lengthAdjust="spacing" text-anchor="start" fill="#111" stroke="#111" stroke-width="0.18" style="">4: SG-</text>
<text x="604.3" y="779.8" font-size="12.4" textLength="41.7" lengthAdjust="spacing" text-anchor="start" fill="#111" stroke="#111" stroke-width="0.18" style="">5: SG+</text>
<text x="604.3" y="793.8" font-size="12.4" textLength="116.4" lengthAdjust="spacing" text-anchor="start" fill="#111" stroke="#111" stroke-width="0.18" style="">6: не используется</text>
<text x="604.3" y="807.6" font-size="12.4" textLength="116.4" lengthAdjust="spacing" text-anchor="start" fill="#111" stroke="#111" stroke-width="0.18" style="">7: не используется</text>
<text x="604.3" y="821.6" font-size="12.4" textLength="116.4" lengthAdjust="spacing" text-anchor="start" fill="#111" stroke="#111" stroke-width="0.18" style="">8: не используется</text>
<text x="560.6" y="777.6" font-size="15" text-anchor="start" fill="#111" stroke="#111" stroke-width="0.18" style="">8</text>
<text x="584.4" y="777.6" font-size="15" text-anchor="start" fill="#111" stroke="#111" stroke-width="0.18" style="">1</text>
<line x1="575.5" y1="772.2" x2="585.6" y2="772.2" stroke="#111" stroke-width="1.1" />
<path d="M572.8,772.2 L578,769.9 L577,772.2 L578,774.5 Z" fill="#111"/>
<rect x="554.4" y="783.3" width="39.4" height="38.4" fill="#fff" stroke="#7d7d7d" stroke-width="1.3"/>
<polyline points="556.9,818.8 556.9,795.3" fill="none" stroke="#8c8c8c" stroke-width="1.7" />
<polyline points="592.1,818.8 592.1,794.3" fill="none" stroke="#8c8c8c" stroke-width="1.7" />
<polyline points="556.2,794.6 563.3,794.6 563.6,790.3 566.7,787.1 581.6,787.1 584.7,789.9 584.7,793.6 592.6,793.6" fill="none" stroke="#111" stroke-width="1.15" />
<line x1="558.4" y1="818.4" x2="588.6" y2="818.4" stroke="#111" stroke-width="1.3" />
<path d="M564.8,807 Q560.6,811.5 560.8,818" fill="none" stroke="#111" stroke-width="1.05"/>
<path d="M567.9,807 Q563.7,811.5 563.9,818" fill="none" stroke="#111" stroke-width="1.05"/>
<path d="M571.0,807 Q566.8,811.5 567.0,818" fill="none" stroke="#111" stroke-width="1.05"/>
<path d="M574.1,807 Q569.9,811.5 570.1,818" fill="none" stroke="#111" stroke-width="1.05"/>
<path d="M577.2,807 Q573.0,811.5 573.2,818" fill="none" stroke="#111" stroke-width="1.05"/>
<path d="M580.3,807 Q576.1,811.5 576.3,818" fill="none" stroke="#111" stroke-width="1.05"/>
<path d="M583.4,807 Q579.2,811.5 579.4,818" fill="none" stroke="#111" stroke-width="1.05"/>
<path d="M586.5,807 Q582.3,811.5 582.5,818" fill="none" stroke="#111" stroke-width="1.05"/>
<line x1="588.4" y1="815.5" x2="588.4" y2="818.6" stroke="#111" stroke-width="1.1" />
<circle cx="200" cy="850" r="7.3" fill="#fff" stroke="#111" stroke-width="1.1"/>
<circle cx="200" cy="850" r="4.6" fill="#fff" stroke="#111" stroke-width="1"/>
<text x="215" y="854.4" font-size="12.5" textLength="134.3" lengthAdjust="spacing" text-anchor="start" fill="#111" stroke="#111" stroke-width="0.18" style="">Силовые терминалы</text>
<circle cx="385.7" cy="850" r="3.9" fill="#fff" stroke="#111" stroke-width="1"/>
<text x="398.3" y="854.4" font-size="12.5" textLength="167.7" lengthAdjust="spacing" text-anchor="start" fill="#111" stroke="#111" stroke-width="0.18" style="">Управляющие терминалы</text>
<rect x="593.8" y="832" width="21.2" height="31.8" rx="10.6" ry="9" fill="none" stroke="#333" stroke-width="1" stroke-dasharray="2.2 2.8"/>
<line x1="590.8" y1="840.6" x2="618" y2="840.6" stroke="#111" stroke-width="1" />
<line x1="590.8" y1="854.8" x2="618" y2="854.8" stroke="#111" stroke-width="1" />
<text x="623.7" y="854.6" font-size="12.5" textLength="158.3" lengthAdjust="spacing" text-anchor="start" fill="#111" stroke="#111" stroke-width="0.18" style="">Экранированный кабель</text>
</g>
</svg>
</body></html>
